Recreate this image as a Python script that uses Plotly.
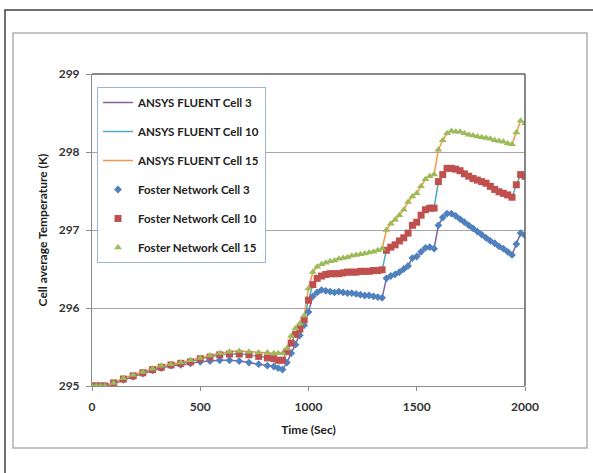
import plotly.graph_objects as go

time_s = [0, 20, 40, 60, 100, 145, 190, 235, 280, 320, 365, 410, 455, 500, 545, 590, 635, 680,
          725, 770, 810, 840, 860, 880,
          900, 920, 940, 960, 980, 1000, 1020, 1040, 1060, 1080, 1100, 1120, 1140, 1160, 1180,
          1200, 1220, 1240, 1260, 1280, 1300, 1320, 1340, 1360, 1380, 1400, 1420, 1440, 1460,
          1480, 1500, 1520, 1540, 1560, 1580, 1600, 1620, 1640, 1660, 1680, 1700, 1720, 1740,
          1760, 1780, 1800, 1820, 1840, 1860, 1880, 1900, 1920, 1940, 1960, 1980, 2000]

cell3 = [295.00, 295.00, 295.00, 295.00, 295.03, 295.08, 295.12, 295.16, 295.20, 295.23, 295.26,
         295.27, 295.29, 295.31, 295.32, 295.33, 295.33, 295.32, 295.30, 295.28, 295.26, 295.25,
         295.23, 295.21,
         295.30, 295.42, 295.53, 295.65, 295.78, 295.95, 296.15, 296.20, 296.23, 296.22, 296.21,
         296.20, 296.21, 296.20, 296.19, 296.19, 296.18, 296.17, 296.16, 296.16, 296.15, 296.14,
         296.13, 296.38, 296.41, 296.43, 296.46, 296.50, 296.54, 296.64, 296.66, 296.72, 296.77,
         296.78, 296.76, 297.06, 297.16, 297.21, 297.21, 297.18, 297.14, 297.10, 297.06, 297.02,
         296.98, 296.94, 296.90, 296.86, 296.83, 296.79, 296.76, 296.72, 296.68, 296.82, 296.96,
         296.93]

cell10 = [295.00, 295.00, 295.00, 295.00, 295.04, 295.09, 295.13, 295.17, 295.21, 295.24, 295.27,
          295.29, 295.31, 295.35, 295.37, 295.40, 295.41, 295.41, 295.40, 295.38, 295.36, 295.35,
          295.33, 295.33,
          295.44, 295.55, 295.66, 295.73, 295.85, 296.10, 296.30, 296.38, 296.41, 296.43, 296.44,
          296.44, 296.44, 296.45, 296.46, 296.46, 296.46, 296.47, 296.47, 296.47, 296.48, 296.48,
          296.49, 296.74, 296.78, 296.81, 296.86, 296.90, 296.96, 297.06, 297.10, 297.19, 297.26,
          297.28, 297.28, 297.62, 297.71, 297.79, 297.79, 297.78, 297.76, 297.72, 297.69, 297.66,
          297.64, 297.62, 297.60, 297.56, 297.52, 297.49, 297.47, 297.45, 297.42, 297.58, 297.71,
          297.69]

cell15 = [295.00, 295.00, 295.00, 295.00, 295.04, 295.10, 295.14, 295.18, 295.22, 295.26, 295.28,
          295.30, 295.33, 295.36, 295.39, 295.42, 295.44, 295.45, 295.44, 295.43, 295.43, 295.42,
          295.42, 295.42,
          295.48, 295.64, 295.74, 295.80, 295.90, 296.25, 296.46, 296.53, 296.56, 296.58, 296.60,
          296.61, 296.63, 296.64, 296.65, 296.67, 296.68, 296.69, 296.70, 296.71, 296.72, 296.74,
          296.76, 297.00, 297.08, 297.13, 297.19, 297.26, 297.36, 297.43, 297.47, 297.56, 297.65,
          297.69, 297.71, 298.03, 298.15, 298.24, 298.27, 298.26, 298.26, 298.24, 298.22, 298.21,
          298.20, 298.19, 298.18, 298.17, 298.15, 298.14, 298.13, 298.11, 298.10, 298.25, 298.40,
          298.37]

line_names = ["ANSYS FLUENT Cell 3", "ANSYS FLUENT Cell 10", "ANSYS FLUENT Cell 15"]
marker_names = ["Foster Network Cell 3", "Foster Network Cell 10", "Foster Network Cell 15"]
x_ticks = [0, 500, 1000, 1500, 2000]
y_ticks = [295, 296, 297, 298, 299]

series = [cell3, cell10, cell15]
line_colors = ["#8064A2", "#4BACC6", "#F79646"]
marker_colors = ["#4F81BD", "#C0504D", "#9BBB59"]
marker_symbols = ["diamond", "square", "triangle-up"]
marker_sizes = [6, 7, 7]

FONT = "Lato"
fig = go.Figure()
for i, (nm, ys) in enumerate(zip(line_names, series)):
    fig.add_trace(go.Scatter(x=time_s, y=ys, mode="lines", name=nm,
                             legendgroup=f"g{i}",
                             line=dict(color=line_colors[i], width=1.5)))
for i, (nm, ys) in enumerate(zip(marker_names, series)):
    fig.add_trace(go.Scatter(x=time_s, y=ys, mode="markers", name=nm,
                             legendgroup=f"m{i}",
                             marker=dict(color=marker_colors[i], symbol=marker_symbols[i],
                                         size=marker_sizes[i], line=dict(width=0))))

L, R, T, B = 92, 68, 74, 87
W, H = 593, 473
pw, ph = W - L - R, H - T - B


def px(x):
    return (x - L) / pw


def py(y):
    return (H - B - y) / ph


shapes = [
    # outer frame
    dict(type="rect", xref="paper", yref="paper", x0=px(5), x1=px(600), y0=py(480), y1=py(10),
         line=dict(color="#404040", width=1.5), layer="below"),
    # chart area frame
    dict(type="rect", xref="paper", yref="paper", x0=px(13), x1=px(587), y0=py(448), y1=py(33),
         line=dict(color="#B0B0B0", width=1.5), layer="below"),
    # plot area top / right border
    dict(type="line", xref="paper", yref="paper", x0=0, x1=1, y0=1, y1=1,
         line=dict(color="#606060", width=1.5)),
    dict(type="line", xref="paper", yref="paper", x0=1, x1=1, y0=0, y1=1,
         line=dict(color="#606060", width=1.5)),
]

fig.update_layout(
    width=W, height=H,
    margin=dict(l=L, r=R, t=T, b=B),
    paper_bgcolor="white", plot_bgcolor="white",
    font=dict(family=FONT, size=12, color="#333333", weight="bold"),
    showlegend=True,
    legend=dict(x=px(97), y=py(87), xanchor="left", yanchor="top",
                bgcolor="white", bordercolor="#9DB4D6", borderwidth=1,
                font=dict(family=FONT, size=11.5, color="#222222", weight="bold"),
                tracegroupgap=10, itemwidth=30),
    shapes=shapes,
    xaxis=dict(range=[0, 2000], tickvals=x_ticks, showgrid=False, zeroline=False,
               showline=True, linecolor="#8C8C8C", linewidth=1,
               ticks="outside", ticklen=4, tickcolor="#8C8C8C", ticklabelstandoff=6,
               tickfont=dict(size=12, color="#333333"),
               title=dict(text="Time (Sec)", standoff=12,
                          font=dict(family=FONT, size=12, color="#222222", weight="bold"))),
    yaxis=dict(range=[295, 299], tickvals=y_ticks, showgrid=True, gridcolor="#A6A6A6",
               gridwidth=1, zeroline=False, showline=True, linecolor="#8C8C8C", linewidth=1,
               ticks="outside", ticklen=5, tickcolor="#8C8C8C", ticklabelstandoff=4,
               tickfont=dict(size=12, color="#333333"),
               title=dict(text="Cell average Temperature (K)", standoff=8,
                          font=dict(family=FONT, size=12, color="#222222", weight="bold"))),
)

fig.write_html("out.html", config={"displayModeBar": False},
               post_script="document.body.style.margin='0';")
